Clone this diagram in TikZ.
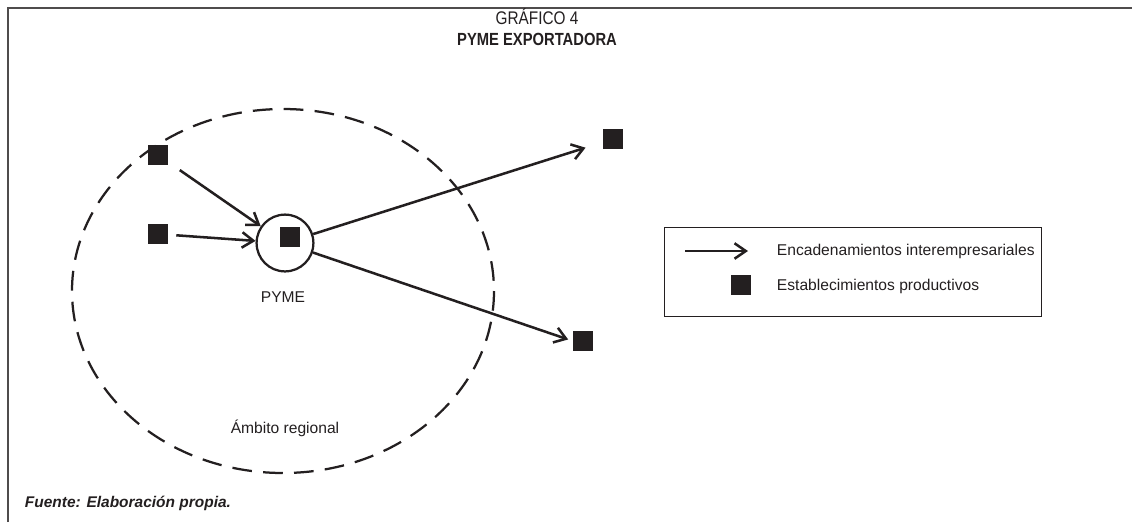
\documentclass[tikz,border=0pt]{standalone}
\usepackage{fontspec}
\setmainfont{Liberation Sans}
\newfontfamily\narrowsans[FakeStretch=0.84]{Liberation Sans}
\usepackage{xcolor}
\usepackage{tikz}
\definecolor{inkblack}{RGB}{35, 31, 32}
\usetikzlibrary{arrows.meta,positioning,calc}

\begin{document}
\begin{tikzpicture}[
    x=0.025cm, y=-0.025cm,
    estab/.style={
        rectangle,
        fill=inkblack,
        minimum size=0.5cm,
        inner sep=0pt
    },
    link/.style={-{Straight Barb[length=8pt,width=11pt]},line width=1.8pt,inkblack},
    region/.style={dashed,dash pattern=on 14pt off 8pt,line width=1.6pt,inkblack},
    label/.style={font=\fontsize{11.1}{13}\selectfont,text=inkblack}
]
    \useasboundingbox (0,0) rectangle (1132,522);

    % Frame and title
    \draw[line width=1pt,inkblack!80] (8,522) -- (8,8) -- (1132,8);
    \node[font=\narrowsans\fontsize{13}{15}\selectfont,text=inkblack] (title) at (537,17) {GRÁFICO 4};
    \node[font=\narrowsans\fontsize{12.5}{15}\selectfont\bfseries,text=inkblack] (subtitle) at (537,39) {PYME EXPORTADORA};

    % Regional area
    \draw[region] (283,291) ellipse [x radius=211, y radius=182];
    \node[label] (area) at (285,428) {Ámbito regional};

    % Establishments
    \node[estab] (est1) at (158,155) {};
    \node[estab] (est2) at (158,234) {};
    \node[estab] (pyme) at (290,237) {};
    \node[estab] (est3) at (613,139) {};
    \node[estab] (est4) at (583,341) {};
    \node[circle,draw=inkblack,line width=1.6pt,minimum size=1.42cm,inner sep=0pt] (pymering) at (285,243) {};
    \node[label] (pymename) at (283,297) {PYME};

    % Links
    \draw[link,shorten <=0.35cm] (est1) -- (pymering);
    \draw[link,shorten <=0.2cm] (est2) -- (pymering);
    \draw[link,shorten >=0.45cm] (pymering) -- (est3);
    \draw[link,shorten >=0.12cm] (pymering) -- (est4.west);

    % Legend
    \node[draw=inkblack,line width=0.8pt,minimum width=9.42cm,minimum height=2.22cm] (legend) at (853,272) {};
    \coordinate (lgstart) at (685,251);
    \coordinate (lgend) at (748,251);
    \draw[link] (lgstart) -- (lgend);
    \node[label,anchor=west] (lgtext1) at (772,251) {Encadenamientos interempresariales};
    \node[estab] (lgsquare) at (741,285) {};
    \node[label,anchor=west] (lgtext2) at (772,286) {Establecimientos productivos};

    % Source
    \node[font=\fontsize{11}{13}\selectfont\bfseries\itshape,text=inkblack,anchor=west] (source) at (20,503) {Fuente: Elaboración propia.};
\end{tikzpicture}
\end{document}
